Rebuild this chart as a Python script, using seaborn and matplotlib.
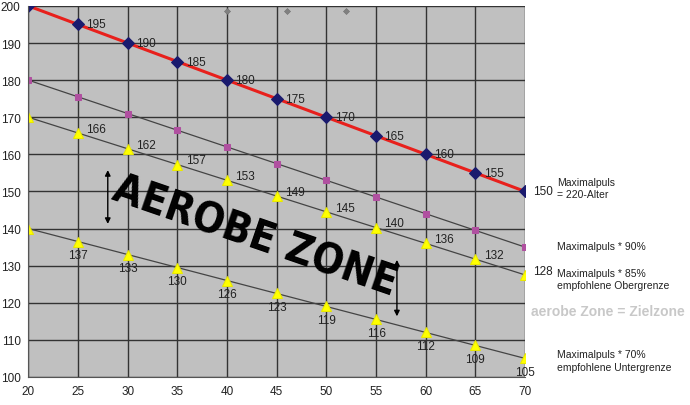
import numpy as np
import pandas as pd
import seaborn as sns
import matplotlib.pyplot as plt

# Data
alter = [20, 25, 30, 35, 40, 45, 50, 55, 60, 65, 70]
max_puls = [200, 195, 190, 185, 180, 175, 170, 165, 160, 155, 150]
puls_90 = [180, 175.5, 171, 166.5, 162, 157.5, 153, 148.5, 144, 139.5, 135]
puls_85 = [170, 165.75, 161.5, 157.25, 153, 148.75, 144.5, 140.25, 136, 131.75, 127.5]
puls_70 = [140, 136.5, 133, 129.5, 126, 122.5, 119, 115.5, 112, 108.5, 105]
labels_max = ["", "195", "190", "185", "180", "175", "170", "165", "160", "155", "150"]
labels_85 = ["", "166", "162", "157", "153", "149", "145", "140", "136", "132", "128"]
labels_70 = ["", "137", "133", "130", "126", "123", "119", "116", "112", "109", "105"]
stray_x = [40, 46, 52]
stray_y = [198.5, 198.5, 198.5]

df = pd.DataFrame({"alter": alter, "max": max_puls, "p90": puls_90,
                   "p85": puls_85, "p70": puls_70})

sns.set_style("whitegrid", {"axes.facecolor": "#c0c0c0", "grid.color": "#333333",
                            "axes.edgecolor": "#555555"})
plt.rcParams["font.family"] = ["Liberation Sans", "DejaVu Sans"]

fig = plt.figure(figsize=(6.9, 4.06), dpi=100)
ax = fig.add_axes([0.041, 0.069, 0.72, 0.914])

sns.lineplot(data=df, x="alter", y="p90", ax=ax, color="#444444", lw=0.9,
             marker="s", markersize=4, markerfacecolor="#b050a0", markeredgecolor="#b050a0")
sns.lineplot(data=df, x="alter", y="p85", ax=ax, color="#444444", lw=0.9,
             marker="^", markersize=7, markerfacecolor="#ffff00", markeredgecolor="#e8e800")
sns.lineplot(data=df, x="alter", y="p70", ax=ax, color="#444444", lw=0.9,
             marker="^", markersize=7, markerfacecolor="#ffff00", markeredgecolor="#e8e800")
sns.lineplot(data=df, x="alter", y="max", ax=ax, color="#e8201c", lw=2.2,
             marker="D", markersize=6, markerfacecolor="#1a1a6e", markeredgecolor="#1a1a6e")
sns.scatterplot(x=stray_x, y=stray_y, ax=ax, marker="D", s=10, color="#808080",
                edgecolor="#606060")

for x, y, t in zip(alter, max_puls, labels_max):
    ax.annotate(t, (x, y), xytext=(6, 0), textcoords="offset points",
                fontsize=8.5, color="#222222", va="center", ha="left", annotation_clip=False)
for x, y, t in zip(alter, puls_85, labels_85):
    ax.annotate(t, (x, y), xytext=(6, 3), textcoords="offset points",
                fontsize=8.5, color="#222222", va="center", ha="left", annotation_clip=False)
for x, y, t in zip(alter, puls_70, labels_70):
    ax.annotate(t, (x, y), xytext=(0, -10), textcoords="offset points",
                fontsize=8.5, color="#222222", va="center", ha="center", annotation_clip=False)

ax.set_xlim(20, 70)
ax.set_ylim(100, 200)
ax.set_xticks(range(20, 71, 5))
ax.set_yticks(range(100, 201, 10))
ax.tick_params(labelsize=8.5, colors="#222222", pad=2)
ax.grid(True, color="#333333", lw=1.0)
ax.set_xlabel("")
ax.set_ylabel("")
for s in ["top", "right"]:
    ax.spines[s].set_visible(False)

# big rotated label and arrows
ax.text(42.8, 138, "AEROBE ZONE", rotation=-19, fontsize=30, fontweight="heavy",
        ha="center", va="center", color="black", family="DejaVu Sans",
        fontstretch="condensed")
ax.annotate("", xy=(28, 156.5), xytext=(28, 140.5),
            arrowprops=dict(arrowstyle="<|-|>", color="black", lw=1, mutation_scale=8))
ax.annotate("", xy=(57.1, 132.3), xytext=(57.1, 115.6),
            arrowprops=dict(arrowstyle="<|-|>", color="black", lw=1, mutation_scale=8))

# right side legend texts
fs = 7.5
fig.text(0.807, 0.535, "Maximalpuls\n= 220-Alter", fontsize=fs, color="#222222",
         va="center", linespacing=1.3)
fig.text(0.807, 0.392, "Maximalpuls * 90%", fontsize=fs, color="#222222", va="center")
fig.text(0.807, 0.31, "Maximalpuls * 85%\nempfohlene Obergrenze", fontsize=fs,
         color="#222222", va="center", linespacing=1.3)
fig.text(0.770, 0.232, "aerobe Zone = Zielzone", fontsize=10, color="#c8c8c8",
         fontweight="bold", va="center")
fig.text(0.807, 0.11, "Maximalpuls * 70%\nempfohlene Untergrenze", fontsize=fs,
         color="#222222", va="center", linespacing=1.3)

fig.savefig("out.png", dpi=100)
